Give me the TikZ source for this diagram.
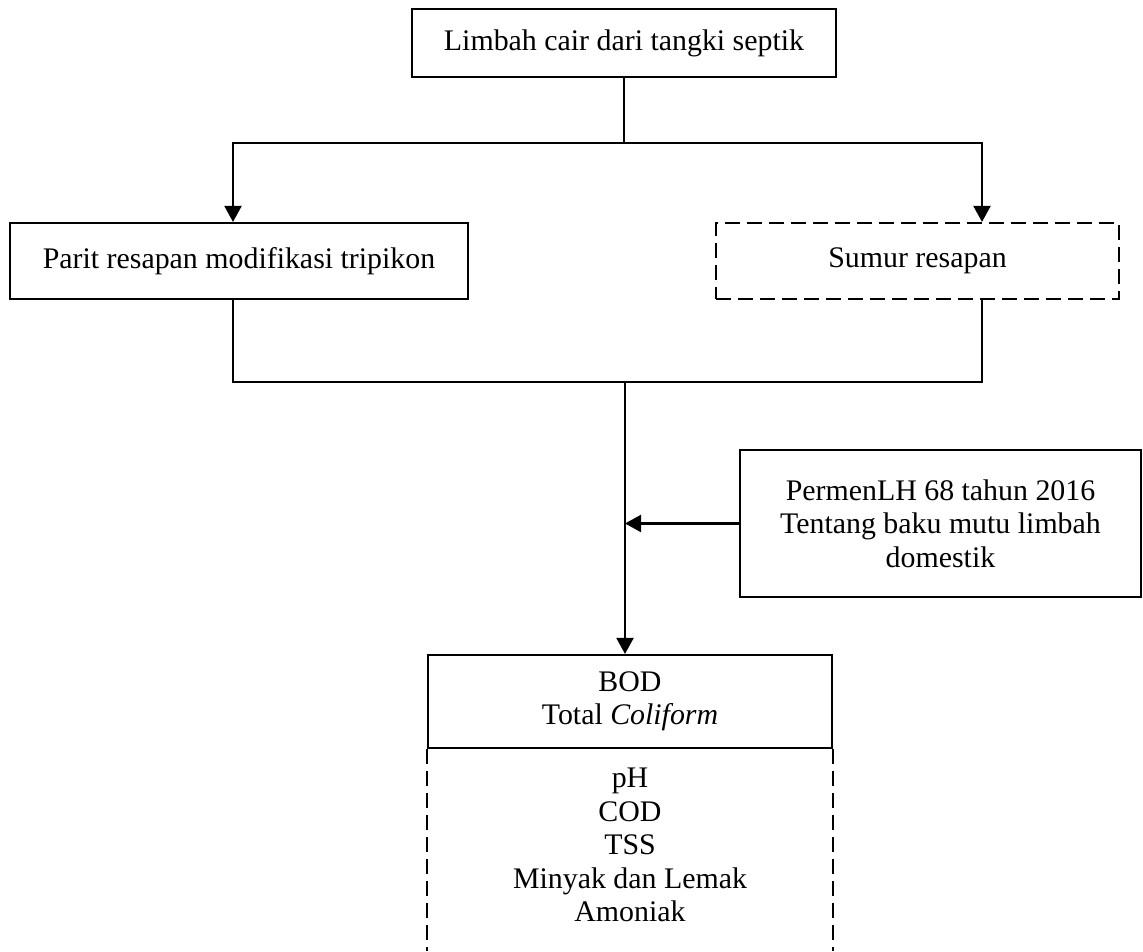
\documentclass[tikz,border=0pt]{standalone}
\usepackage{fontspec}
\setmainfont{Liberation Serif}
\usetikzlibrary{arrows.meta,positioning,calc}

\begin{document}
\begin{tikzpicture}[
    font=\fontsize{17}{19}\selectfont,
    kotak/.style={draw=black, line width=1.2pt, align=center, inner sep=0pt},
    kotakputus/.style={kotak, dash pattern=on 0.3cm off 0.14cm},
    garis/.style={draw=black, line width=1.2pt},
    putus/.style={garis, dash pattern=on 0.3cm off 0.14cm},
    panah/.style={-{Triangle[length=0.32cm, width=0.34cm]}, line width=1.2pt, draw=black}
]
    \useasboundingbox (0,0) rectangle (22.86,19.02);

    % Sumber limbah
    \node[kotak, minimum width=8.48cm, minimum height=1.36cm] (limbah) at (12.48, 18.16) {Limbah cair dari tangki septik};

    % Dua jenis resapan
    \node[kotak, minimum width=9.16cm, minimum height=1.52cm] (parit) at (4.78, 13.8) {Parit resapan modifikasi tripikon};
    \node[kotakputus, minimum width=8.06cm, minimum height=1.52cm] (sumur) at (18.35, 13.8) {Sumur resapan};

    \coordinate (kiri) at (4.66, 16.16);
    \coordinate (kanan) at (19.64, 16.16);
    \coordinate (gabung) at (12.5, 11.38);

    % Baku mutu
    \node[kotak, minimum width=8.02cm, minimum height=2.94cm] (permen) at (18.81, 8.55) {PermenLH 68 tahun 2016\\Tentang baku mutu limbah\\domestik};

    % Parameter uji
    \node[kotak, minimum width=8.08cm, minimum height=1.86cm] (param) at (12.6, 4.99) {BOD\\Total \textit{Coliform}};
    \node[align=center] (paramlain) at (12.6, 2.12) {pH\\COD\\TSS\\Minyak dan Lemak\\Amoniak};

    % Garis percabangan
    \draw[garis] (limbah.south) -- (limbah.south |- kiri);
    \draw[panah] (limbah.south |- kiri) -| (kiri |- parit.north);
    \draw[panah] (limbah.south |- kanan) -| (kanan |- sumur.north);

    % Garis penggabungan
    \draw[garis] (kiri |- parit.south) -- (kiri |- gabung) -- (kanan |- gabung) -- (kanan |- sumur.south);
    \draw[panah] (gabung) -- (gabung |- param.north);
    \draw[panah] (permen.west) -- (permen.west -| gabung);

    % Sisi putus-putus parameter lain
    \draw[putus] (param.south west) -- (param.south west |- 0,0);
    \draw[putus] (param.south east) -- (param.south east |- 0,0);

\end{tikzpicture}
\end{document}
